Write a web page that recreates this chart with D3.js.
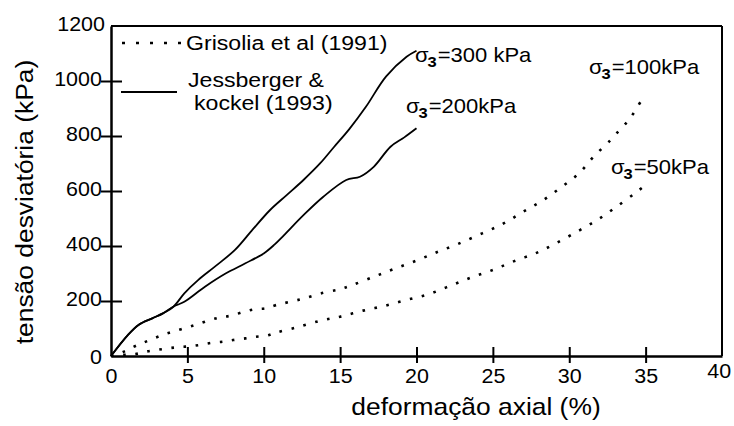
<!DOCTYPE html>
<html>
<head>
<meta charset="utf-8">
<script src="https://cdn.jsdelivr.net/npm/d3@7"></script>
<style>
  html, body { margin: 0; padding: 0; background: #fff; }
  svg { display: block; font-family: "Liberation Sans", Arial, sans-serif; }
</style>
</head>
<body>
<svg id="chart" width="734" height="426"></svg>
<script>
// ---- data ----
const xTicks = [0, 5, 10, 15, 20, 25, 30, 35, 40];
const yTicks = [0, 200, 400, 600, 800, 1000, 1200];

// Jessberger & Kockel (1993), sigma3 = 300 kPa
const strain300 = [0, 1.1, 1.8, 2.7, 3.4, 4.1, 4.8, 5.7, 6.8, 8.1, 9.2, 10.4, 11.5, 12.6, 13.7, 14.6, 15.6, 16.7, 18.0, 19.35, 20.0];
const stress300 = [0, 76, 113, 137, 155, 180, 228, 276, 325, 385, 455, 530, 585, 640, 701, 760, 825, 907, 1016, 1088, 1110];

// Jessberger & Kockel (1993), sigma3 = 200 kPa
const strain200 = [0, 1.1, 1.8, 2.7, 3.4, 4.1, 4.8, 6.15, 7.5, 8.8, 10.0, 10.7, 11.3, 12.6, 13.9, 15.4, 16.3, 17.2, 18.3, 19.2, 20.0];
const stress200 = [0, 76, 113, 137, 155, 180, 197, 252, 300, 337, 373, 405, 438, 512, 579, 640, 652, 688, 761, 795, 828];

// Grisolia et al (1991), sigma3 = 100 kPa
const strain100 = [0, 0.8, 1.5, 2.1, 2.8, 3.5, 4.2, 5.0, 5.7, 6.5, 7.2, 7.9, 8.7, 9.4, 10.1, 10.8, 12.4, 13.9, 15.0, 15.8, 17.2, 18.5, 20.0, 21.4, 22.7, 24.3, 25.7, 27.0, 28.3, 29.5, 30.6, 31.6, 32.7, 33.3, 33.8, 34.2, 34.8];
const stress100 = [0, 15, 34, 48, 64, 79, 91, 104, 116, 131, 141, 147, 161, 170, 173, 185, 206, 230, 243, 258, 288, 316, 347, 379, 407, 446, 482, 525, 567, 615, 662, 725, 785, 822, 852, 882, 937];

// Grisolia et al (1991), sigma3 = 50 kPa
const strain50 = [0, 0.8, 1.6, 2.3, 3.0, 3.75, 4.4, 5.1, 5.8, 6.6, 7.35, 8.0, 8.8, 9.5, 10.2, 10.8, 12.15, 13.7, 15.0, 16.5, 17.9, 19.35, 20.8, 22.2, 23.6, 25.0, 26.4, 27.9, 29.2, 30.7, 31.9, 33.1, 34.3, 34.8];
const stress50 = [0, 4, 7, 16, 22, 28, 32, 35, 40, 48, 52, 58, 64, 70, 74, 85, 104, 128, 143, 165, 182, 204, 225, 255, 286, 313, 345, 376, 412, 458, 497, 543, 592, 613];

const legendLabels = ["Grisolia et al (1991)", "Jessberger &", "kockel (1993)"];
const curveLabels = ["=300 kPa", "=200kPa", "=100kPa", "=50kPa"];
const xTitle = "deformação axial (%)";
const yTitle = "tensão desviatória (kPa)";

// ---- drawing ----
const svg = d3.select("#chart");
const x = d3.scaleLinear().domain([0, 40]).range([111, 722]);
const y = d3.scaleLinear().domain([0, 1200]).range([356, 26]);
const SX = 1.1;

svg.append("rect").attr("width", 734).attr("height", 426).attr("fill", "#fff");

// frame top/right
svg.append("line").attr("x1", x(0)).attr("x2", x(40)).attr("y1", y(1200)).attr("y2", y(1200))
  .attr("stroke", "#000").attr("stroke-width", 2);
svg.append("line").attr("x1", x(40)).attr("x2", x(40)).attr("y1", y(1200)).attr("y2", y(0))
  .attr("stroke", "#000").attr("stroke-width", 2);

// x axis
const gx = svg.append("g").attr("transform", `translate(0,${y(0)})`)
  .call(d3.axisBottom(x).tickValues(xTicks).tickSizeOuter(0).tickFormat(d3.format("d")));
gx.select(".domain").attr("stroke-width", 2.5);
gx.selectAll(".tick line")
  .attr("y1", -9).attr("y2", 7).attr("stroke-width", 2)
  .attr("display", d => (d === 0 || d === 40) ? "none" : null);
gx.selectAll(".tick text")
  .attr("font-size", 19.5).attr("font-family", "Liberation Sans, Arial, sans-serif")
  .attr("fill", "#000")
  .attr("y", d => d === 40 ? 8 : 13)
  .attr("x", d => d === 40 ? -3 : 0)
  .attr("transform", `scale(${SX},1)`);

// y axis
const gy = svg.append("g").attr("transform", `translate(${x(0)},0)`)
  .call(d3.axisLeft(y).tickValues(yTicks).tickSizeOuter(0).tickFormat(d3.format("d")));
gy.select(".domain").attr("stroke-width", 2.5);
gy.selectAll(".tick line")
  .attr("x1", -10).attr("x2", 11).attr("stroke-width", 2)
  .attr("display", d => (d === 0 || d === 1200) ? "none" : null);
gy.selectAll(".tick text")
  .attr("font-size", 19.5).attr("font-family", "Liberation Sans, Arial, sans-serif")
  .attr("fill", "#000")
  .attr("x", d => d === 1200 ? -5.5 : -8.3)
  .attr("y", d => d === 0 ? 1 : -2)
  .attr("transform", `scale(${SX},1)`);

// curves
const line = d3.line().x(d => x(d[0])).y(d => y(d[1])).curve(d3.curveCatmullRom.alpha(0.5));
function series(xs, ys) { return xs.map((v, i) => [v, ys[i]]); }

const solid = [series(strain300, stress300), series(strain200, stress200)];
const dotted = [series(strain100, stress100), series(strain50, stress50)];

svg.selectAll("path.solid").data(solid).join("path").attr("class", "solid")
  .attr("d", line).attr("fill", "none").attr("stroke", "#000").attr("stroke-width", 1.8);
svg.selectAll("path.dotted").data(dotted).join("path").attr("class", "dotted")
  .attr("d", line).attr("fill", "none").attr("stroke", "#000").attr("stroke-width", 2.6)
  .attr("stroke-dasharray", "2.6 9.6");

// text helper
function txt(str, px, py, size, anchor, extra) {
  return svg.append("text").attr("transform", `translate(${px},${py}) ${extra || ""} scale(${SX},1)`)
    .attr("font-size", size).attr("text-anchor", anchor || "start").attr("fill", "#000").text(str);
}

// legend
svg.append("line").attr("x1", 122).attr("x2", 181).attr("y1", 43).attr("y2", 43)
  .attr("stroke", "#000").attr("stroke-width", 2.6).attr("stroke-dasharray", "3 11");
txt(legendLabels[0], 186, 50, 21);
svg.append("line").attr("x1", 121).attr("x2", 177).attr("y1", 92).attr("y2", 92)
  .attr("stroke", "#000").attr("stroke-width", 2);
txt(legendLabels[1], 188, 87, 21);
txt(legendLabels[2], 194, 110, 21);

// sigma labels
function sigma(px, py, rest) {
  const t = svg.append("text").attr("transform", `translate(${px},${py}) scale(${SX},1)`)
    .attr("font-size", 20).attr("fill", "#000");
  t.append("tspan").text("σ");
  t.append("tspan").attr("font-size", 15).attr("font-weight", "bold").attr("dy", 5).attr("dx", -1).text("3");
  t.append("tspan").attr("dy", -5).attr("dx", 1).text(rest);
}
sigma(415, 62, curveLabels[0]);
sigma(406, 113, curveLabels[1]);
sigma(589, 74, curveLabels[2]);
sigma(611, 174, curveLabels[3]);

// axis titles
txt(xTitle, 476, 415, 24, "middle");
txt(yTitle, 33, 202, 24, "middle", "rotate(-90)");
</script>
</body>
</html>
